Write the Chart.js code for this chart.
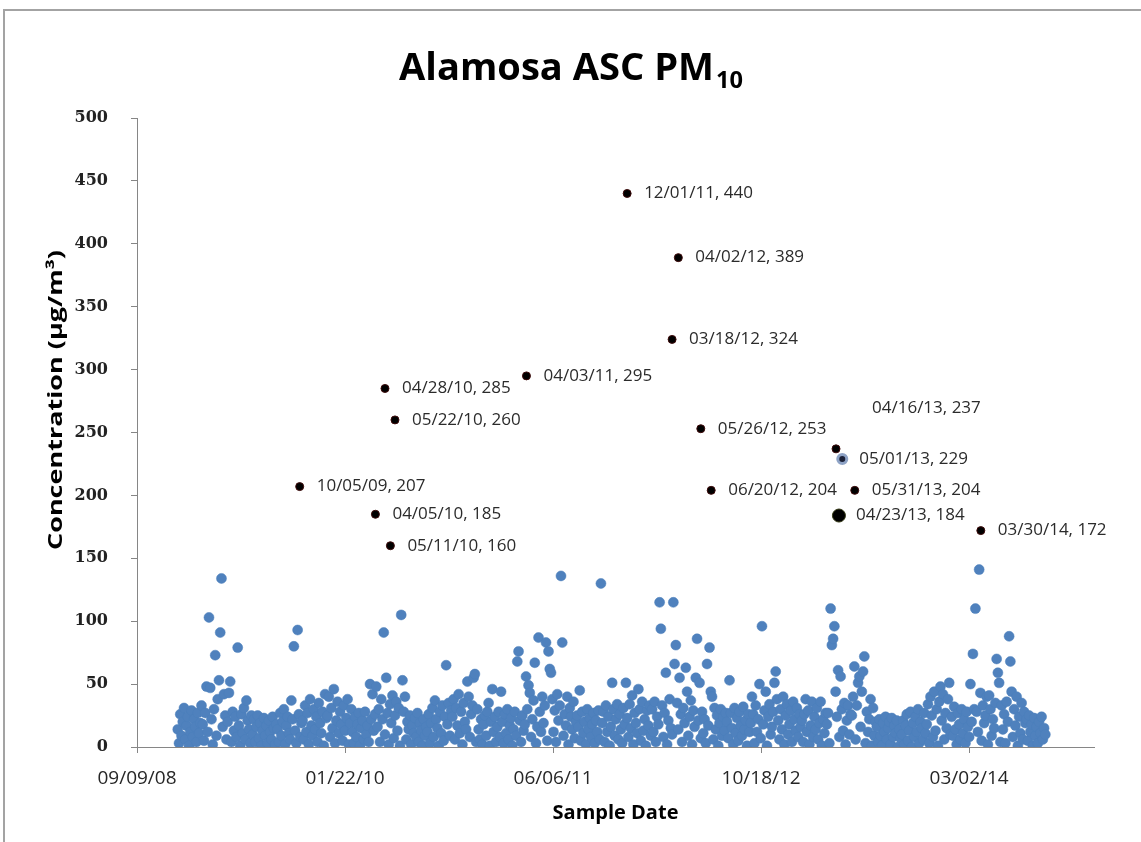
<!DOCTYPE html>
<html>
<head>
<meta charset="utf-8">
<script src="https://cdn.jsdelivr.net/npm/chart.js@4.4.1/dist/chart.umd.min.js"></script>
<style>
  html, body { margin: 0; padding: 0; background: #fff; }
</style>
</head>
<body>
<canvas id="pm10" width="1141" height="842"></canvas>
<script>
// regular samples, one every 3 days from the first sample date (ug/m3)
const sampleStart = '12/16/08';
const sampleStepDays = 3;
const pm10Values = [
    14, 3, 26, 9, 20, 31, 6, 17, 24, 1, 12, 29, 8, 22, 16, 4, 27, 11, 19, 33,
    18, 5, 27, 48, 12, 103, 47, 22, 2, 30, 73, 9, 38, 53, 91, 134, 16, 42, 25, 6,
    20, 43, 52, 4, 28, 13, 24, 8, 79, 17, 1, 26, 11, 31, 6, 37, 21, 14, 3, 25,
    10, 22, 4, 16, 25, 7, 19, 1, 13, 23, 9, 17, 3, 21, 12, 6, 24, 15, 2, 18,
    14, 4, 27, 9, 20, 30, 2, 17, 24, 11, 6, 37, 22, 80, 13, 3, 93, 26, 8, 19,
    21, 6, 33, 12, 27, 2, 38, 17, 9, 30, 14, 24, 4, 35, 19, 11, 28, 1, 42, 23,
    25, 40, 8, 31, 15, 46, 3, 21, 36, 11, 28, 18, 5, 33, 13, 23, 38, 2, 19, 30,
    12, 3, 24, 8, 18, 27, 1, 15, 21, 6, 28, 10, 17, 4, 50, 22, 42, 13, 26, 48,
    16, 30, 4, 38, 22, 91, 10, 55, 27, 2, 34, 19, 41, 7, 25, 36, 13, 31, 1, 105,
    53, 28, 40, 6, 20, 14, 25, 2, 17, 11, 23, 8, 27, 4, 19, 13, 1, 22, 9, 16,
    12, 26, 3, 19, 31, 8, 37, 22, 15, 1, 28, 11, 33, 5, 24, 65, 18, 35, 9, 29,
    24, 38, 6, 31, 17, 42, 11, 28, 2, 35, 20, 14, 52, 40, 8, 26, 33, 55, 58, 4,
    30, 14, 6, 22, 2, 18, 25, 9, 28, 35, 1, 20, 46, 12, 24, 4, 16, 28, 8, 44,
    20, 3, 26, 11, 30, 6, 17, 23, 1, 14, 28, 9, 68, 76, 21, 4, 25, 13, 18, 56,
    30, 49, 43, 8, 22, 37, 67, 3, 16, 87, 28, 12, 40, 19, 33, 83, 5, 76, 62, 59,
    38, 12, 29, 4, 42, 21, 33, 136, 83, 9, 26, 17, 40, 2, 31, 24, 14, 36, 7, 20,
    25, 16, 45, 5, 28, 11, 20, 2, 30, 14, 23, 8, 18, 27, 3, 21, 12, 29, 6, 130,
    19, 28, 4, 33, 12, 24, 1, 16, 51, 30, 9, 22, 34, 6, 26, 14, 3, 31, 18, 51,
    23, 8, 34, 15, 41, 2, 27, 19, 11, 46, 30, 5, 36, 13, 22, 1, 29, 17, 33, 9,
    30, 12, 36, 4, 24, 18, 115, 94, 33, 8, 27, 59, 2, 21, 38, 15, 10, 115, 66, 81,
    35, 14, 55, 26, 4, 31, 19, 63, 44, 9, 24, 37, 2, 29, 16, 55, 86, 21, 51, 7,
    28, 11, 22, 3, 66, 17, 79, 44, 40, 6, 31, 14, 25, 1, 19, 30, 9, 24, 13, 27,
    20, 7, 53, 27, 15, 2, 31, 11, 23, 5, 28, 17, 9, 32, 14, 21, 1, 26, 12, 19,
    40, 26, 3, 33, 12, 22, 50, 7, 96, 18, 29, 44, 1, 24, 34, 10, 16, 28, 51, 60,
    38, 21, 6, 30, 14, 40, 2, 25, 34, 10, 18, 29, 4, 36, 22, 13, 31, 8, 26, 16,
    21, 4, 26, 38, 12, 29, 2, 17, 36, 8, 24, 14, 31, 6, 19, 36, 1, 22, 11, 27,
    18, 27, 3, 110, 81, 86, 96, 44, 24, 61, 8, 56, 30, 13, 35, 2, 21, 33, 10, 26,
    25, 40, 64, 6, 33, 51, 56, 16, 44, 60, 72, 3, 28, 12, 22, 38, 1, 31, 9, 20,
    16, 4, 22, 9, 1, 19, 12, 24, 6, 15, 20, 2, 23, 8, 17, 11, 21, 0, 14, 7,
    10, 21, 2, 17, 26, 5, 13, 28, 0, 19, 8, 24, 12, 30, 3, 20, 15, 6, 27, 11,
    18, 34, 3, 40, 25, 8, 44, 13, 30, 1, 36, 48, 21, 42, 6, 27, 15, 38, 51, 10,
    24, 9, 32, 14, 2, 27, 18, 6, 30, 11, 22, 3, 28, 16, 8, 50, 20, 74, 30, 110,
    28, 12, 141, 43, 5, 33, 19, 25, 40, 2, 41, 30, 9, 22, 15, 35, 70, 59, 51, 4,
    33, 14, 26, 3, 36, 20, 88, 68, 44, 8, 30, 17, 40, 1, 24, 11, 35, 6, 28, 19,
    22, 5, 25, 12, 18, 1, 23, 9, 16, 3, 20, 11, 24, 6, 15, 10
];

// labelled high days
const peakDates = ['10/05/09', '04/05/10', '04/28/10', '05/11/10', '05/22/10', '04/03/11',
    '12/01/11', '03/18/12', '04/02/12', '05/26/12', '06/20/12', '04/16/13',
    '04/23/13', '05/01/13', '05/31/13', '03/30/14'];
const peakValues = [207, 185, 285, 160, 260, 295, 440, 324, 389, 253, 204, 237, 184, 229, 204, 172];

const tickDates = ['09/09/08', '01/22/10', '06/06/11', '10/18/12', '03/02/14'];
const axisStart = '09/09/08';
const axisEnd = '12/27/14';

// mm/dd/yy -> excel style day number
function toSerial(s) {
    const [m, d, y] = s.split('/').map(Number);
    return (Date.UTC(2000 + y, m - 1, d) - Date.UTC(1899, 11, 30)) / 86400000;
}

const start = toSerial(sampleStart);
const samplePoints = pm10Values.map((v, i) => ({ x: start + i * sampleStepDays, y: v }));
const peakPoints = peakDates.map((d, i) => ({ x: toSerial(d), y: peakValues[i] }));

const blue = '#4F81BD';
const axisGray = '#868686';

// the two odd markers near 04/2013
const peakFill = peakDates.map(d => d === '05/01/13' ? '#1c2238' : '#000000');
const peakBorder = peakDates.map(d => d === '05/01/13' ? '#8ea3c6' : (d === '04/23/13' ? '#2f3410' : '#3d0a0a'));
const peakRadius = peakDates.map(d => d === '04/23/13' ? 6.5 : (d === '05/01/13' ? 4.5 : 4));
const peakBorderWidth = peakDates.map(d => d === '05/01/13' ? 3 : 1);

const frameAndTitles = {
    id: 'frameAndTitles',
    beforeDraw(chart) {
        const ctx = chart.ctx;
        ctx.save();
        ctx.strokeStyle = '#a3a3a3';
        ctx.lineWidth = 2;
        ctx.beginPath();
        ctx.moveTo(4, 842);
        ctx.lineTo(4, 10);
        ctx.lineTo(1141, 10);
        ctx.stroke();
        ctx.restore();
    },
    afterDraw(chart) {
        const ctx = chart.ctx;
        ctx.save();
        ctx.fillStyle = '#000';
        ctx.textBaseline = 'alphabetic';
        ctx.font = 'bold 40px "Open Sans"';
        const main = 'Alamosa ASC PM';
        let w = ctx.measureText(main).width;
        const size = 40 * 315 / w;
        ctx.font = 'bold ' + size.toFixed(1) + 'px "Open Sans"';
        w = ctx.measureText(main).width;
        const subFont = 'bold ' + (size * 0.62).toFixed(1) + 'px "Open Sans"';
        ctx.font = subFont;
        const sw = ctx.measureText('10').width;
        const x0 = 571 - (w + sw + 2) / 2;
        ctx.font = 'bold ' + size.toFixed(1) + 'px "Open Sans"';
        ctx.fillText(main, x0, 80);
        ctx.font = subFont;
        ctx.fillText('10', x0 + w + 2, 88);
        ctx.restore();

        // y axis title, stretched along its length like the original
        ctx.save();
        ctx.font = 'bold 19px "Open Sans"';
        const yt = 'Concentration (µg/m³)';
        const yw = ctx.measureText(yt).width;
        ctx.translate(57, 400);
        ctx.rotate(-Math.PI / 2);
        ctx.scale(300 / yw, 1);
        ctx.textAlign = 'center';
        ctx.textBaseline = 'middle';
        ctx.fillStyle = '#000';
        ctx.fillText(yt, 0, 0);
        ctx.restore();
    }
};

const peakLabels = {
    id: 'peakLabels',
    afterDatasetsDraw(chart) {
        const meta = chart.getDatasetMeta(1);
        const ctx = chart.ctx;
        ctx.save();
        ctx.font = '17px "Open Sans"';
        ctx.fillStyle = '#2b2b2b';
        ctx.textBaseline = 'middle';
        meta.data.forEach((pt, i) => {
            let dx = 17, dy = 0;
            if (peakDates[i] === '04/16/13') { dx = 36; dy = -41; }
            ctx.fillText(peakDates[i] + ', ' + peakValues[i], pt.x + dx, pt.y + dy);
        });
        ctx.restore();
    }
};

new Chart(document.getElementById('pm10'), {
    type: 'scatter',
    data: {
        datasets: [
            {
                label: 'PM10',
                data: samplePoints,
                pointRadius: 5,
                pointHoverRadius: 5,
                backgroundColor: blue,
                borderColor: '#4A7EBB',
                borderWidth: 0.5
            },
            {
                label: 'High days',
                data: peakPoints,
                pointRadius: peakRadius,
                pointHoverRadius: peakRadius,
                backgroundColor: peakFill,
                borderColor: peakBorder,
                borderWidth: peakBorderWidth
            }
        ]
    },
    options: {
        responsive: false,
        animation: false,
        devicePixelRatio: 1,
        layout: { padding: { top: 118, right: 47, bottom: 0, left: 0 } },
        plugins: {
            legend: { display: false },
            tooltip: { enabled: false }
        },
        scales: {
            x: {
                type: 'linear',
                min: toSerial(axisStart),
                max: toSerial(axisEnd),
                afterBuildTicks: scale => {
                    scale.ticks = tickDates.map(d => ({ value: toSerial(d) }));
                },
                afterFit: scale => { scale.height = 95; },
                ticks: {
                    callback: (value, index) => tickDates[index],
                    font: { family: 'Open Sans', size: 19 },
                    color: '#262626',
                    padding: 14,
                    maxRotation: 0,
                    autoSkip: false
                },
                grid: { drawOnChartArea: false, drawTicks: true, tickLength: 6, color: axisGray },
                border: { color: axisGray },
                title: {
                    display: true,
                    text: 'Sample Date',
                    font: { family: 'Open Sans', size: 20, weight: 'bold' },
                    color: '#000',
                    padding: { top: 0, bottom: 17 }
                }
            },
            y: {
                min: 0,
                max: 500,
                afterFit: scale => { scale.width = 137; },
                ticks: {
                    stepSize: 50,
                    font: { family: 'DejaVu Serif', size: 16, weight: 'bold' },
                    color: '#222',
                    padding: 23
                },
                grid: { drawOnChartArea: false, drawTicks: true, tickLength: 6, color: axisGray },
                border: { color: axisGray },
                title: { display: false }
            }
        }
    },
    plugins: [frameAndTitles, peakLabels]
});
</script>
</body>
</html>
